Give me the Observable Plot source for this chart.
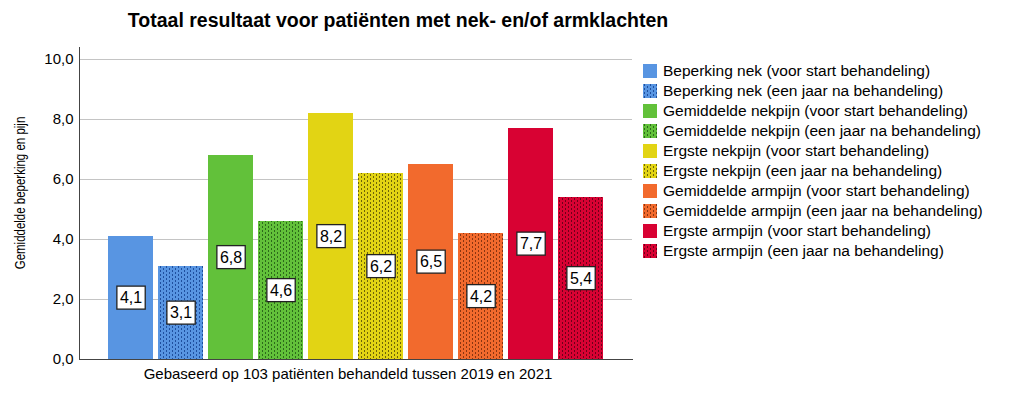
<!DOCTYPE html>
<html>
<head>
<meta charset="utf-8">
<script src="https://cdn.jsdelivr.net/npm/d3@7"></script>
<script src="https://cdn.jsdelivr.net/npm/@observablehq/plot@0.6"></script>
<style>
  body { margin: 0; background: #fff; font-family: "Liberation Sans", Arial, sans-serif; }
  #wrap { position: relative; width: 1009px; height: 402px; overflow: hidden; }
  #title { position: absolute; left: 398px; top: 9px; transform: translateX(-50%); white-space: nowrap;
           font-weight: bold; font-size: 19.5px; color: #000; z-index: 2; }
  #chart { position: absolute; left: 0; top: 40px; z-index: 1; }
  #legend { position: absolute; left: 643px; top: 61px; z-index: 2; }
  .row { height: 20px; display: flex; align-items: center; font-size: 15.5px; color: #000; white-space: nowrap; }
  .row svg { margin-right: 6px; flex: none; }
  #ylab { position: absolute; left: 20px; top: 193px; transform: translate(-50%, -50%) rotate(-90deg) scaleX(0.82);
          white-space: nowrap; font-size: 14px; color: #000; z-index: 3; }
</style>
</head>
<body>
<svg width="0" height="0" style="position:absolute">
  <defs id="pdefs"></defs>
</svg>
<div id="wrap">
  <div id="title">Totaal resultaat voor patiënten met nek- en/of armklachten</div>
  <div id="chart"></div>
  <div id="ylab">Gemiddelde beperking en pijn</div>
  <div id="legend"></div>
</div>
<script>
// ---- data ----
const categories = [
  "Beperking nek (voor start behandeling)",
  "Beperking nek (een jaar na behandeling)",
  "Gemiddelde nekpijn (voor start behandeling)",
  "Gemiddelde nekpijn (een jaar na behandeling)",
  "Ergste nekpijn (voor start behandeling)",
  "Ergste nekpijn (een jaar na behandeling)",
  "Gemiddelde armpijn (voor start behandeling)",
  "Gemiddelde armpijn (een jaar na behandeling)",
  "Ergste armpijn (voor start behandeling)",
  "Ergste armpijn (een jaar na behandeling)"
];
const values = [4.1, 3.1, 6.8, 4.6, 8.2, 6.2, 6.5, 4.2, 7.7, 5.4];
const patterned = [false, true, false, true, false, true, false, true, false, true];
const baseColors = ["#5895e2", "#5895e2", "#62c13a", "#62c13a", "#e2d414", "#e2d414", "#f26a2d", "#f26a2d", "#d80233", "#d80233"];
const darkColors = ["#1f4f9e", "#1f4f9e", "#2c6a1a", "#2c6a1a", "#6d6408", "#6d6408", "#8a3511", "#8a3511", "#6e0019", "#6e0019"];
const yTicks = [0, 2, 4, 6, 8, 10];
const caption = "Gebaseerd op 103 patiënten behandeld tussen 2019 en 2021";

// ---- patterns ----
const defs = document.getElementById("pdefs");
const ns = "http://www.w3.org/2000/svg";
function fillFor(i) {
  if (!patterned[i]) return baseColors[i];
  const id = "pat" + i;
  if (!document.getElementById(id)) {
    const p = document.createElementNS(ns, "pattern");
    p.setAttribute("id", id);
    p.setAttribute("patternUnits", "userSpaceOnUse");
    p.setAttribute("width", 6);
    p.setAttribute("height", 4);
    const bg = document.createElementNS(ns, "rect");
    bg.setAttribute("width", 6); bg.setAttribute("height", 4); bg.setAttribute("fill", baseColors[i]);
    p.appendChild(bg);
    for (const [x, y] of [[1, 0], [4, 2]]) {
      const r = document.createElementNS(ns, "rect");
      r.setAttribute("x", x); r.setAttribute("y", y); r.setAttribute("width", 1); r.setAttribute("height", 2);
      r.setAttribute("fill", darkColors[i]);
      p.appendChild(r);
    }
    defs.appendChild(p);
  }
  return `url(#${id})`;
}

const data = categories.map((c, i) => ({
  cat: c, value: values[i], fill: fillFor(i), label: d3.format(".1f")(values[i]).replace(".", ",")
}));

const chart = Plot.plot({
  width: 1009,
  height: 362,
  marginTop: 7,
  marginBottom: 43,
  marginLeft: 79,
  marginRight: 377,
  style: { fontFamily: "'Liberation Sans', Arial, sans-serif", fontSize: "15px", color: "#000", background: "transparent" },
  x: { domain: categories, paddingInner: 0.1, paddingOuter: 0.58, axis: null },
  y: { domain: [0, 10.4], label: null },
  color: { type: "identity" },
  marks: [
    Plot.gridY(yTicks.filter(t => t > 0), { stroke: "#c4c4c4", strokeOpacity: 1 }),
    Plot.barY(data, { x: "cat", y: "value", fill: "fill" }),
    Plot.axisY(yTicks, { tickSize: 0, tickPadding: 6, tickFormat: d => d3.format(".1f")(d).replace(".", ","), fontSize: 15, label: null }),
    Plot.frame({ anchor: "left", stroke: "#444" }),
    Plot.frame({ anchor: "bottom", stroke: "#444" }),
    Plot.text(data, { x: "cat", y: d => d.value / 2, text: "label", fontSize: 16, fill: "#000" }),
    Plot.text([caption], { frameAnchor: "bottom", dy: 19, dx: -8, fontSize: 15, fill: "#000" })
  ]
});
document.getElementById("chart").appendChild(chart);

// white boxes behind bar labels
const labelTexts = Array.from(chart.querySelectorAll("g[aria-label='text'] text"))
  .filter(t => data.some(d => d.label === t.textContent));
labelTexts.forEach(t => {
  const b = t.getBBox();
  const r = document.createElementNS(ns, "rect");
  const w = b.width + 6, h = 23;
  r.setAttribute("x", b.x + b.width / 2 - w / 2);
  r.setAttribute("y", b.y + b.height / 2 - h / 2);
  r.setAttribute("width", w);
  r.setAttribute("height", h);
  r.setAttribute("fill", "#fff");
  r.setAttribute("stroke", "#222");
  r.setAttribute("stroke-width", 1.3);
  const tr = t.getAttribute("transform");
  if (tr) r.setAttribute("transform", tr);
  t.parentNode.insertBefore(r, t);
});

// legend
const legend = document.getElementById("legend");
categories.forEach((c, i) => {
  const row = document.createElement("div");
  row.className = "row";
  row.innerHTML = `<svg width="14" height="14"><rect width="14" height="14" fill="${fillFor(i)}"></rect></svg><span>${c}</span>`;
  legend.appendChild(row);
});
</script>
</body>
</html>
